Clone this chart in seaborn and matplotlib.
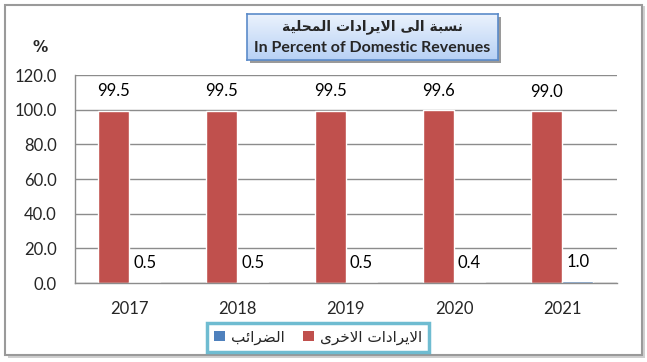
import numpy as np
import pandas as pd
import matplotlib
matplotlib.use("Agg")
import matplotlib.pyplot as plt
from matplotlib.patches import Rectangle, Patch
import seaborn as sns

# ---- data ----
years = ["2017", "2018", "2019", "2020", "2021"]
other_revenues = [99.5, 99.5, 99.5, 99.6, 99.0]
taxes = [0.5, 0.5, 0.5, 0.4, 1.0]
series_other = "الايرادات الاخرى"
series_taxes = "الضرائب"
title_ar = "نسبة الى الايرادات المحلية"
title_en = "In Percent of Domestic Revenues"
y_ticks = [0, 20, 40, 60, 80, 100, 120]

# ---- simple Arabic shaping (presentation forms + visual order) ----
FORMS = {
    'ا': ('\uFE8D', '\uFE8E', None, None),
    'ب': ('\uFE8F', '\uFE90', '\uFE91', '\uFE92'),
    'ة': ('\uFE93', '\uFE94', None, None),
    'ت': ('\uFE95', '\uFE96', '\uFE97', '\uFE98'),
    'ح': ('\uFEA1', '\uFEA2', '\uFEA3', '\uFEA4'),
    'خ': ('\uFEA5', '\uFEA6', '\uFEA7', '\uFEA8'),
    'د': ('\uFEA9', '\uFEAA', None, None),
    'ر': ('\uFEAD', '\uFEAE', None, None),
    'س': ('\uFEB1', '\uFEB2', '\uFEB3', '\uFEB4'),
    'ض': ('\uFEBD', '\uFEBE', '\uFEBF', '\uFEC0'),
    'ل': ('\uFEDD', '\uFEDE', '\uFEDF', '\uFEE0'),
    'م': ('\uFEE1', '\uFEE2', '\uFEE3', '\uFEE4'),
    'ن': ('\uFEE5', '\uFEE6', '\uFEE7', '\uFEE8'),
    'ى': ('\uFEEF', '\uFEF0', None, None),
    'ي': ('\uFEF1', '\uFEF2', '\uFEF3', '\uFEF4'),
    'ئ': ('\uFE89', '\uFE8A', '\uFE8B', '\uFE8C'),
    'LA': ('\uFEFB', '\uFEFC', None, None),
}


def shape_arabic(text):
    units = []
    i = 0
    while i < len(text):
        if text[i] == 'ل' and i + 1 < len(text) and text[i + 1] == 'ا':
            units.append('LA')
            i += 2
        else:
            units.append(text[i])
            i += 1
    out = []
    for k, u in enumerate(units):
        if u not in FORMS:
            out.append(u)
            continue
        iso, fin, ini, med = FORMS[u]
        prev = units[k - 1] if k > 0 else None
        nxt = units[k + 1] if k + 1 < len(units) else None
        jp = prev in FORMS and FORMS[prev][2] is not None
        jn = nxt in FORMS and ini is not None
        if jp and jn:
            out.append(med)
        elif jp:
            out.append(fin)
        elif jn:
            out.append(ini)
        else:
            out.append(iso)
    return "".join(out)[::-1]


df = pd.DataFrame({
    "year": years * 2,
    "value": other_revenues + taxes,
    "series": [series_other] * len(years) + [series_taxes] * len(years),
})

red = "#C0504D"
blue = "#4F81BD"
grid_c = "#8C8C8C"
FS = 12

sns.set_theme(style="white")
plt.rcParams["font.family"] = ["Lato", "DejaVu Sans"]

W, H = 647, 362
fig = plt.figure(figsize=(W / 100, H / 100), dpi=100)
fig.patch.set_facecolor("white")

# outer chart frame with a soft shadow
fig.patches.append(Rectangle((8 / W, 1 - 358 / H), 637 / W, 352 / H,
                             transform=fig.transFigure, facecolor="#d0d0d0",
                             edgecolor="none", zorder=-2))
fig.patches.append(Rectangle((5 / W, 1 - 355 / H), 637 / W, 350 / H,
                             transform=fig.transFigure, facecolor="white",
                             edgecolor="#9a9a9a", linewidth=1.5, zorder=-1))

ax = fig.add_axes([75 / W, 1 - 283 / H, 541.5 / W, 208 / H], zorder=1)
ax.set_facecolor("none")
sns.barplot(data=df, x="year", y="value", hue="series",
            hue_order=[series_other, series_taxes],
            palette=[red, blue], width=0.572, gap=0, saturation=1,
            legend=False, ax=ax)

for cont in ax.containers:
    ax.bar_label(cont, fmt="%.1f", padding=8, fontsize=FS, color="black")

ax.set_ylim(0, 120)
ax.set_xlim(-0.5, len(years) - 0.5)
ax.set_yticks(y_ticks)
ax.set_yticklabels([f"{v:.1f}" for v in y_ticks], fontsize=FS)
ax.yaxis.grid(True, color=grid_c, linewidth=1)
ax.set_axisbelow(True)
ax.set_xlabel("")
ax.set_ylabel("")
ax.tick_params(axis="x", which="major", length=0, labelsize=FS, pad=13)
ax.set_xticks(np.arange(-0.5, len(years), 1), minor=True)
ax.tick_params(axis="x", which="minor", length=5, color=grid_c, width=1, direction="out")
ax.tick_params(axis="y", length=5, color=grid_c, width=1, direction="out", pad=8)
for side in ["top", "right"]:
    ax.spines[side].set_visible(False)
for side in ["left", "bottom"]:
    ax.spines[side].set_color(grid_c)
    ax.spines[side].set_linewidth(1)

# unit marker
fig.text(40 / W, 1 - 47 / H, "%", fontsize=11, fontweight="bold",
         ha="center", va="center", family=["DejaVu Sans"])

# title box with gradient fill and shadow
bx0, by0, bw, bh = 247, 14, 251, 46
fig.patches.append(Rectangle(((bx0 + 3) / W, 1 - (by0 + bh + 3) / H), bw / W, bh / H,
                             transform=fig.transFigure, facecolor="#9a9a9a",
                             edgecolor="none", zorder=2))
tax_ = fig.add_axes([bx0 / W, 1 - (by0 + bh) / H, bw / W, bh / H], zorder=3)
grad = np.linspace(0, 1, 64).reshape(-1, 1)
top_c = np.array([0.92, 0.95, 0.99])
bot_c = np.array([0.72, 0.82, 0.96])
img = top_c[None, None, :] * (1 - grad[..., None]) + bot_c[None, None, :] * grad[..., None]
tax_.imshow(img, aspect="auto", extent=[0, 1, 0, 1])
tax_.set_xticks([])
tax_.set_yticks([])
for s in tax_.spines.values():
    s.set_color("#5B8BC9")
    s.set_linewidth(1.2)
tax_.text(0.5, 0.73, shape_arabic(title_ar), ha="center", va="center",
          fontsize=10, fontweight="bold", family=["DejaVu Sans"], transform=tax_.transAxes)
tax_.text(0.5, 0.27, title_en, ha="center", va="center",
          fontsize=11.5, fontweight="bold", family=["Lato", "DejaVu Sans"],
          transform=tax_.transAxes)

# legend
handles = [Patch(facecolor=blue, edgecolor="none"),
           Patch(facecolor=red, edgecolor="none")]
labels = [shape_arabic(series_taxes), shape_arabic(series_other)]
leg = fig.legend(handles, labels, loc="center", bbox_to_anchor=(318 / W, 1 - 337 / H),
                 ncol=2, frameon=True, fancybox=False, handlelength=0.7,
                 handleheight=0.7, handletextpad=0.4, columnspacing=1.2,
                 borderpad=0.45, prop={"family": "DejaVu Sans", "size": 11})
leg.get_frame().set_edgecolor("#4BACC6")
leg.get_frame().set_linewidth(2.5)

fig.savefig("out.png", dpi=100)
